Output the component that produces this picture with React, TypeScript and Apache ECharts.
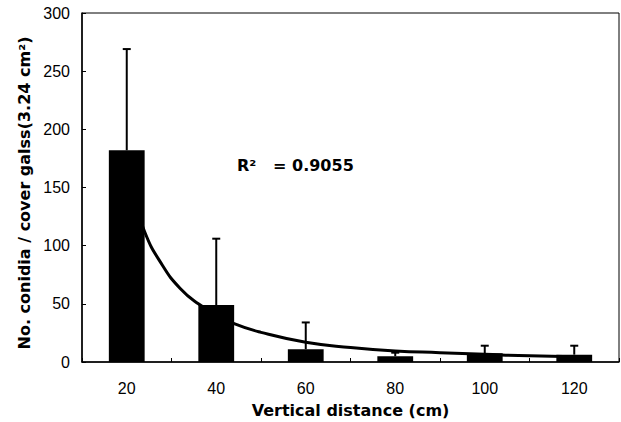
import React, { useEffect, useRef } from "react";
import * as echarts from "echarts";

const categories = ["20", "40", "60", "80", "100", "120"];
const meanValues = [182, 49, 11, 5, 7.5, 6.3];
const upperValues = [269, 106, 34, 8, 14, 14];
// fitted trendline: [category position (1..6), value]
const curvePoints: [number, number][] = [
  [1, 160],
  [1.2, 112],
  [1.4, 83],
  [1.6, 63],
  [1.8, 50],
  [2, 41],
  [2.2, 33],
  [2.5, 25.5],
  [3, 17],
  [3.5, 12.5],
  [4, 9.5],
  [4.5, 8],
  [5, 6.6],
  [5.5, 5.3],
  [6, 4.5],
];
const yTicks = [0, 50, 100, 150, 200, 250, 300];

const FONT = "'Liberation Sans', Arial, Helvetica, sans-serif";
const BOLD_FONT = "'DejaVu Sans', 'Liberation Sans', Arial, sans-serif";

export default function App() {
  const ref = useRef<HTMLDivElement>(null);
  useEffect(() => {
    if (!ref.current) return;
    const chart = echarts.init(ref.current, undefined, { renderer: "svg" });
    const errData = categories.map((_, i) => [i, meanValues[i], upperValues[i]]);
    chart.setOption({
      animation: false,
      backgroundColor: "#ffffff",
      textStyle: { fontFamily: FONT },
      grid: {
        left: 82,
        top: 13,
        right: 2,
        bottom: 60,
        outerBoundsMode: "none",
        containLabel: false,
        show: true,
        borderColor: "#000",
        borderWidth: 1,
        backgroundColor: "transparent",
      },
      xAxis: [
        {
          type: "category",
          data: categories,
          name: "Vertical distance (cm)",
          nameLocation: "middle",
          nameGap: 40,
          nameTextStyle: { fontFamily: BOLD_FONT, fontSize: 16, fontWeight: "bold", color: "#000" },
          axisLine: { lineStyle: { color: "#000", width: 1.5 } },
          axisTick: { show: true, inside: true, length: 4, interval: 0, lineStyle: { color: "#000" } },
          axisLabel: { fontFamily: FONT, fontSize: 16, color: "#000", margin: 18, interval: 0 },
          splitLine: { show: false },
        },
        {
          type: "value",
          min: 0.5,
          max: 6.5,
          show: false,
        },
      ],
      yAxis: {
        type: "value",
        min: yTicks[0],
        max: yTicks[yTicks.length - 1],
        interval: 50,
        name: "No. conidia / cover galss(3.24 cm²)",
        nameLocation: "middle",
        nameGap: 50,
        nameTextStyle: {
          fontFamily: BOLD_FONT,
          fontSize: 16,
          fontWeight: "bold",
          color: "#000",
          padding: [0, 11, 0, 0],
        },
        axisLine: { show: true, lineStyle: { color: "#000", width: 1.5 } },
        axisTick: { show: true, inside: true, length: 4, lineStyle: { color: "#000" } },
        axisLabel: { fontFamily: FONT, fontSize: 16, color: "#000", margin: 12 },
        splitLine: { show: false },
      },
      series: [
        {
          type: "bar",
          data: meanValues,
          barWidth: "40%",
          itemStyle: { color: "#000" },
          z: 2,
        },
        {
          type: "custom",
          data: errData,
          z: 3,
          renderItem: (params: any, api: any) => {
            const x = api.value(0);
            const base = api.coord([x, api.value(1)]);
            const top = api.coord([x, api.value(2)]);
            const hw = 4;
            const style = { stroke: "#000", lineWidth: 2 };
            return {
              type: "group",
              children: [
                { type: "line", shape: { x1: base[0], y1: base[1], x2: top[0], y2: top[1] }, style },
                { type: "line", shape: { x1: top[0] - hw, y1: top[1], x2: top[0] + hw, y2: top[1] }, style },
              ],
            };
          },
        },
        {
          type: "line",
          xAxisIndex: 1,
          data: curvePoints,
          smooth: true,
          showSymbol: false,
          symbol: "none",
          lineStyle: { color: "#000", width: 3 },
          z: 4,
        },
      ],
      graphic: [
        {
          type: "text",
          left: 237,
          top: 157,
          style: {
            text: "R²   = 0.9055",
            fontFamily: BOLD_FONT,
            fontSize: 16,
            fontWeight: "bold",
            fill: "#000",
          },
        },
      ],
    });
    return () => chart.dispose();
  }, []);
  return <div ref={ref} style={{ width: 621, height: 422, position: "absolute", left: 0, top: 0 }} />;
}
